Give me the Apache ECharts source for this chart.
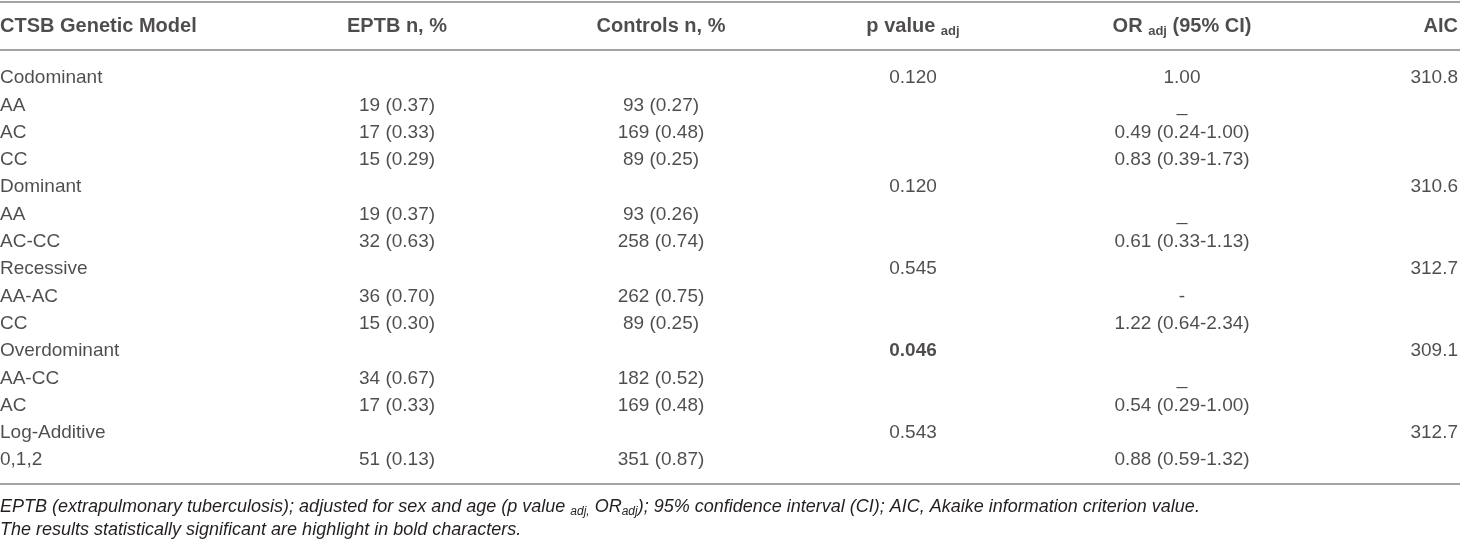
<!DOCTYPE html>
<html>
<head>
<meta charset="utf-8">
<title>CTSB genetic models and EPTB</title>
<script src="https://cdn.jsdelivr.net/npm/echarts@6/dist/echarts.min.js"></script>
<style>
  html, body { margin: 0; padding: 0; background: #fff; }
  #chart { width: 1460px; height: 541px; }
</style>
</head>
<body>
<div id="chart"></div>
<script>
// Table contents
const headers = ['CTSB Genetic Model', 'EPTB n, %', 'Controls n, %', 'p value {sb|adj}', 'OR {sb|adj} (95% CI)', 'AIC']

const models = [
  'Codominant', 'AA', 'AC', 'CC',
  'Dominant', 'AA', 'AC-CC',
  'Recessive', 'AA-AC', 'CC',
  'Overdominant', 'AA-CC', 'AC',
  'Log-Additive', '0,1,2',
]
const eptb = [
  '', '19 (0.37)', '17 (0.33)', '15 (0.29)',
  '', '19 (0.37)', '32 (0.63)',
  '', '36 (0.70)', '15 (0.30)',
  '', '34 (0.67)', '17 (0.33)',
  '', '51 (0.13)',
]
const controls = [
  '', '93 (0.27)', '169 (0.48)', '89 (0.25)',
  '', '93 (0.26)', '258 (0.74)',
  '', '262 (0.75)', '89 (0.25)',
  '', '182 (0.52)', '169 (0.48)',
  '', '351 (0.87)',
]
const pAdj = [
  '0.120', '', '', '',
  '0.120', '', '',
  '0.545', '', '',
  '0.046', '', '',
  '0.543', '',
]
const orAdj = [
  '1.00', '_', '0.49 (0.24-1.00)', '0.83 (0.39-1.73)',
  '', '_', '0.61 (0.33-1.13)',
  '', '-', '1.22 (0.64-2.34)',
  '', '_', '0.54 (0.29-1.00)',
  '', '0.88 (0.59-1.32)',
]
const aic = [
  '310.8', '', '', '',
  '310.6', '', '',
  '312.7', '', '',
  '309.1', '', '',
  '312.7', '',
]
const footnotes = [
  'EPTB (extrapulmonary tuberculosis); adjusted for sex and age (p value {s|adj,} OR{s|adj}); 95% confidence interval (CI); AIC, Akaike information criterion value.',
  'The results statistically significant are highlight in bold characters.',
]
const alpha = 0.05

// Layout: column anchors on a 0..1460 x scale, and their alignment
const columns = [models, eptb, controls, pAdj, orAdj, aic]
const colX = [0, 397, 661, 913, 1182, 1458]
const colAlign = ['left', 'center', 'center', 'center', 'center', 'right']

const FONT = '"Liberation Sans", Arial, Helvetica, sans-serif'
const INK = '#231f20'
const RULE = { show: true, lineStyle: { color: '#a3a3a3', width: 2 } }

const chart = echarts.init(document.getElementById('chart'), null, { renderer: 'canvas' })

function hiddenX(gridIndex, position, axisLine, offset) {
  return {
    type: 'value', gridIndex, position, offset: offset || 0, min: 0, max: 1460,
    axisLine: axisLine ? RULE : { show: false },
    axisTick: { show: false }, axisLabel: { show: false }, splitLine: { show: false },
  }
}

const headerSeries = headers.map((h, c) => ({
  type: 'scatter', xAxisIndex: 0, yAxisIndex: 0,
  symbolSize: 1, itemStyle: { color: 'transparent' }, silent: true,
  data: [{ value: [colX[c], 0], text: h }],
  label: {
    show: true, position: 'inside', align: colAlign[c], verticalAlign: 'middle',
    formatter: p => p.data.text,
    fontFamily: FONT, fontSize: 20, fontWeight: 'bold', color: INK, lineHeight: 24,
    rich: { sb: { fontFamily: FONT, fontSize: 13, fontWeight: 'bold', color: INK, lineHeight: 12, verticalAlign: 'bottom' } },
  },
}))

const bodySeries = columns.map((col, c) => ({
  type: 'scatter', xAxisIndex: 2, yAxisIndex: 1,
  symbolSize: 1, itemStyle: { color: 'transparent' }, silent: true,
  data: col.map((t, i) => ({
    value: [colX[c], i], text: t,
    label: c === 3 && t && parseFloat(t) < alpha ? { fontWeight: 'bold' } : undefined,
  })).filter(d => d.text),
  label: {
    show: true, position: 'inside', align: colAlign[c], verticalAlign: 'middle',
    formatter: p => p.data.text,
    fontFamily: FONT, fontSize: 19, fontWeight: 'normal', color: INK,
  },
}))

chart.setOption({
  animation: false,
  title: {
    left: 0, top: 495, padding: 0,
    text: footnotes.join('\n'),
    textStyle: {
      fontFamily: FONT, fontSize: 18, fontStyle: 'italic', fontWeight: 'normal', color: INK, lineHeight: 23,
      rich: { s: { fontFamily: FONT, fontSize: 12, fontStyle: 'italic', color: INK, lineHeight: 12, verticalAlign: 'bottom' } },
    },
  },
  grid: [
    { left: 0, right: 0, top: 2, height: 48 },
    { left: 0, right: 0, top: 64.35, height: 409.5 },
  ],
  xAxis: [
    hiddenX(0, 'top', true),
    hiddenX(0, 'bottom', true),
    hiddenX(1, 'bottom', true, 10),
  ],
  yAxis: [
    { type: 'category', gridIndex: 0, data: ['header'], show: false },
    { type: 'category', gridIndex: 1, data: models.map((m, i) => i + ':' + m), inverse: true, show: false },
  ],
  series: headerSeries.concat(bodySeries),
})
</script>
</body>
</html>
